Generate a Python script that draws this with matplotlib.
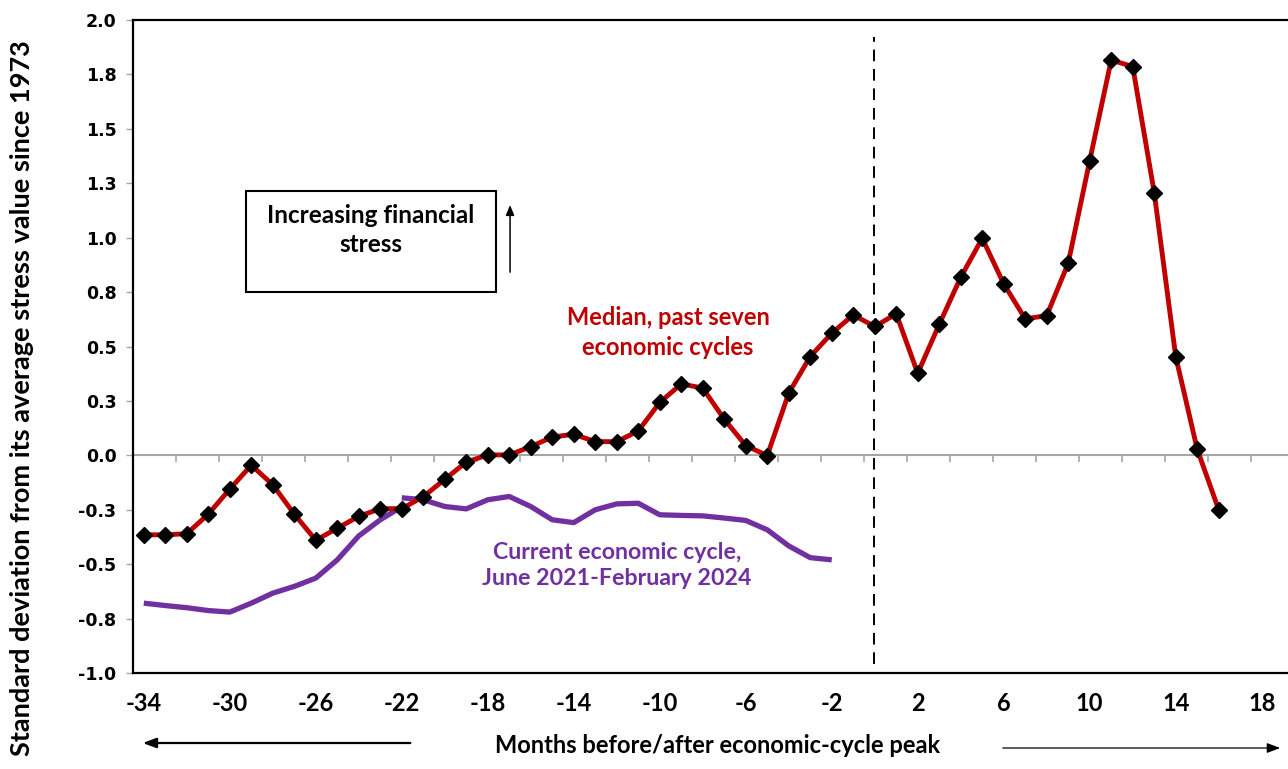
import numpy as np
import matplotlib.pyplot as plt
from matplotlib.patches import Rectangle, FancyArrowPatch

# months relative to the economic-cycle peak
months = list(range(-34, 17))

# median financial stress, past seven cycles (std devs from 1973 average)
median_stress = [-0.365, -0.365, -0.36, -0.27, -0.155, -0.045, -0.135, -0.27,
                 -0.39, -0.335, -0.28, -0.245, -0.245, -0.19, -0.11, -0.031,
                 0.002, 0.002, 0.040, 0.084, 0.097, 0.063, 0.063, 0.112,
                 0.243, 0.328, 0.309, 0.166, 0.045, -0.001, 0.286, 0.454,
                 0.561, 0.645, 0.592, 0.650, 0.377, 0.602, 0.818, 0.997,
                 0.788, 0.627, 0.642, 0.883, 1.354, 1.816, 1.786, 1.207,
                 0.454, 0.028, -0.250]

# current cycle, June 2021 - February 2024 (two pieces in the source sheet)
current_months_a = list(range(-34, -21))
current_stress_a = [-0.679, -0.69, -0.70, -0.713, -0.72, -0.679, -0.633,
                    -0.602, -0.564, -0.48, -0.37, -0.296, -0.236]
current_months_b = list(range(-22, -1))
current_stress_b = [-0.195, -0.204, -0.235, -0.246, -0.204, -0.189, -0.235,
                    -0.296, -0.309, -0.250, -0.223, -0.220, -0.273, -0.276,
                    -0.278, -0.288, -0.299, -0.342, -0.416, -0.47, -0.48]

xtick_vals = list(range(-34, 19, 4))
ytick_vals = [-1.0, -0.75, -0.5, -0.25, 0.0, 0.25, 0.5, 0.75, 1.0, 1.25, 1.5, 1.75, 2.0]
ytick_labels = ["-1.0", "-0.8", "-0.5", "-0.3", "0.0", "0.3", "0.5", "0.8",
                "1.0", "1.3", "1.5", "1.8", "2.0"]
zero_ticks = list(np.arange(-32.5, 19, 2))

RED = "#C00000"
PURPLE = "#7030A0"
sans = ["Lato", "DejaVu Sans"]

fig = plt.figure(figsize=(12.88, 7.69), dpi=100)
ax = fig.add_axes([0.1033, 0.1248, 0.906, 0.8492])

ax.axhline(0, color="#a6a6a6", lw=1.5, zorder=1)
ax.plot(zero_ticks, [0] * len(zero_ticks), ls="none", marker=3, ms=5,
        mew=1.2, color="#a6a6a6", zorder=1)

ax.vlines(-0.05, -0.96, 1.92, colors="black", lw=1.4,
          linestyles=(0, (6, 4)), zorder=2)

ax.plot(current_months_a, current_stress_a, color=PURPLE, lw=3.8,
        solid_capstyle="butt", zorder=3)
ax.plot(current_months_b, current_stress_b, color=PURPLE, lw=3.8,
        solid_capstyle="butt", zorder=3)
ax.plot(months, median_stress, color=RED, lw=3.5, marker="D", ms=8,
        mfc="black", mec="black", zorder=4)

ax.set_xlim(-34.5, 19.78)
ax.set_ylim(-1.0, 2.0)
ax.set_xticks(xtick_vals)
ax.set_xticklabels([str(v) for v in xtick_vals], family=sans,
                   fontweight="bold", fontsize=17)
ax.set_yticks(ytick_vals)
ax.set_yticklabels(ytick_labels, fontweight="bold", fontsize=12.5)
ax.tick_params(axis="x", length=0, pad=14)
ax.tick_params(axis="y", length=5, width=1, color="#a6a6a6", pad=7)

for side in ["top", "left", "bottom"]:
    ax.spines[side].set_linewidth(1.6)
    ax.spines[side].set_color("black")
ax.spines["right"].set_visible(False)

# series labels
fig.text(0.5186, 0.5676, "Median, past seven\neconomic cycles", color=RED,
         family=sans, fontweight="bold", fontsize=17, ha="center",
         va="center", linespacing=1.35)
fig.text(0.479, 0.2646, "Current economic cycle,\nJune 2021-February 2024",
         color=PURPLE, family=sans, fontweight="bold", fontsize=16.7,
         ha="center", va="center", linespacing=1.3)

# stress box with upward arrow
fig.patches.append(Rectangle((0.191, 0.6203), 0.194, 0.1313,
                             transform=fig.transFigure, fill=False,
                             ec="black", lw=1.5))
fig.text(0.288, 0.7009, "Increasing financial\nstress", family=sans,
         fontweight="bold", fontsize=17.5, ha="center", va="center",
         linespacing=1.35)
fig.patches.append(FancyArrowPatch(
    (0.396, 0.6424), (0.396, 0.737), transform=fig.transFigure,
    arrowstyle="-|>,head_length=6,head_width=2.5", color="black", lw=1.1))

# axis titles and direction arrows
fig.text(0.0171, 0.4825, "Standard deviation from its average stress value since 1973",
         rotation=90, family=sans, fontweight="bold", fontsize=19.5,
         ha="center", va="center")
fig.text(0.5575, 0.030, "Months before/after economic-cycle peak",
         family=sans, fontweight="bold", fontsize=17, ha="center",
         va="center")
fig.patches.append(FancyArrowPatch(
    (0.3207, 0.0338), (0.1087, 0.0338), transform=fig.transFigure,
    arrowstyle="-|>,head_length=8,head_width=3", color="black", lw=1.6))
fig.patches.append(FancyArrowPatch(
    (0.7764, 0.0273), (0.9961, 0.0273), transform=fig.transFigure,
    arrowstyle="-|>,head_length=8,head_width=3", color="black", lw=0.9))

fig.savefig("out.png", dpi=100)
